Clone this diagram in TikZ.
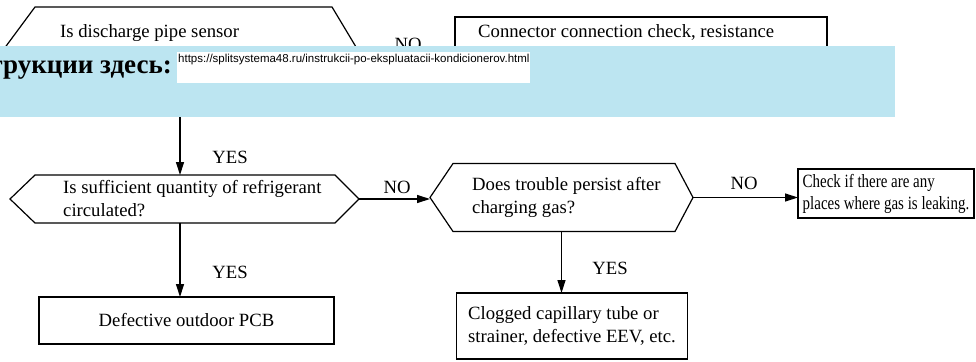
\documentclass[tikz,border=0pt]{standalone}
\usepackage{fontspec}
\setmainfont{Liberation Serif}
\newfontfamily\urlfont{Liberation Sans}
\newfontfamily\narrowfont{Liberation Serif}[FakeStretch=0.8]
\usepackage{tikz}
\usetikzlibrary{arrows.meta}
\definecolor{bannerblue}{HTML}{BCE5F1}

% hexagon outline round an (undrawn) decision node: name, left inset, right inset
\newcommand{\hexoutline}[3]{%
  \draw[line width=1.2pt] (#1.west) -- ([xshift=#2]#1.north west) -- ([xshift=-#3]#1.north east)
    -- (#1.east) -- ([xshift=-#3]#1.south east) -- ([xshift=#2]#1.south west) -- cycle;}

\begin{document}
\begin{tikzpicture}[x=1pt,y=-1pt,font=\fontsize{18.7}{23}\selectfont,
  decision/.style={inner sep=0pt,outer sep=0pt,align=left},
  result/.style={draw,line width=1.2pt,inner sep=0pt,outer sep=0pt,align=left},
  txt/.style={anchor=west,align=left,inner sep=0pt},
  flow/.style={line width=1.2pt,-{Triangle[length=13pt,width=8pt]}},
  lbl/.style={inner sep=0pt}]
  \useasboundingbox (0,0) rectangle (976,361);

  % decisions
  \node[decision,minimum width=364pt,minimum height=100pt] (qdis) at (180,57) {};
  \node[txt] (qdistxt) at (60,33) {Is discharge pipe sensor};
  \node[decision,minimum width=349pt,minimum height=48pt] (qref) at (184.5,199) {};
  \node[txt] (qreftxt) at (63,199) {Is sufficient quantity of refrigerant\\circulated?};
  \node[decision,minimum width=263pt,minimum height=68pt] (qgas) at (561.5,197.5) {};
  \node[txt] (qgastxt) at (472,197.5) {Does trouble persist after\\charging gas?};
  \hexoutline{qdis}{37pt}{30pt}
  \hexoutline{qref}{25pt}{24pt}
  \hexoutline{qgas}{23pt}{18pt}

  % results
  \node[result,line width=1.8pt,minimum width=372pt,minimum height=80pt] (conn) at (641,57) {};
  \node[txt] (conntxt) at (478,32) {Connector connection check, resistance};
  \node[result,minimum width=295pt,minimum height=47pt] (pcb) at (186.5,320.5) {Defective outdoor PCB};
  \node[result,minimum width=231pt,minimum height=66pt] (clog) at (572,326) {Clogged capillary tube or\\strainer, defective EEV, etc.};
  \node[result,line width=1.8pt,minimum width=176pt,minimum height=49pt,font=\narrowfont\fontsize{18.7}{22}\selectfont] (leak) at (886,193.5) {Check if there are any\\places where gas is leaking.};

  % connectors
  \draw[flow] (qdis.east) -- (conn.west);
  \draw[flow] (qdis.south) -- (qdis.south |- qref.north);
  \draw[flow] (qref.south -| qdis.south) -- (qdis.south |- pcb.north);
  \draw[flow] (qref.east) -- (qref.east -| qgas.west);
  \draw[flow] (qgas.east) -- (qgas.east -| leak.west);
  \draw[flow] (qgas.south) -- (qgas.south |- clog.north);

  \node[lbl] (no1) at (408,44) {NO};
  \node[lbl] (yes1) at (230,157) {YES};
  \node[lbl] (no2) at (397,187) {NO};
  \node[lbl] (no3) at (744,183) {NO};
  \node[lbl] (yes2) at (230,272) {YES};
  \node[lbl] (yes3) at (610,268) {YES};

  % banner over the top
  \fill[bannerblue] (0,46) rectangle (895,117);
  \fill[white] (177,52) rectangle (530,83);
  \node[inner sep=0pt,anchor=base east,font=\bfseries\fontsize{27}{30}\selectfont] (bannertxt) at (172,74) {трукции здесь:};
  \node[inner sep=0pt,anchor=north west,font=\urlfont\fontsize{11.5}{13}\selectfont] (url) at (178,54) {https://splitsystema48.ru/instrukcii-po-ekspluatacii-kondicionerov.html};
\end{tikzpicture}
\end{document}
